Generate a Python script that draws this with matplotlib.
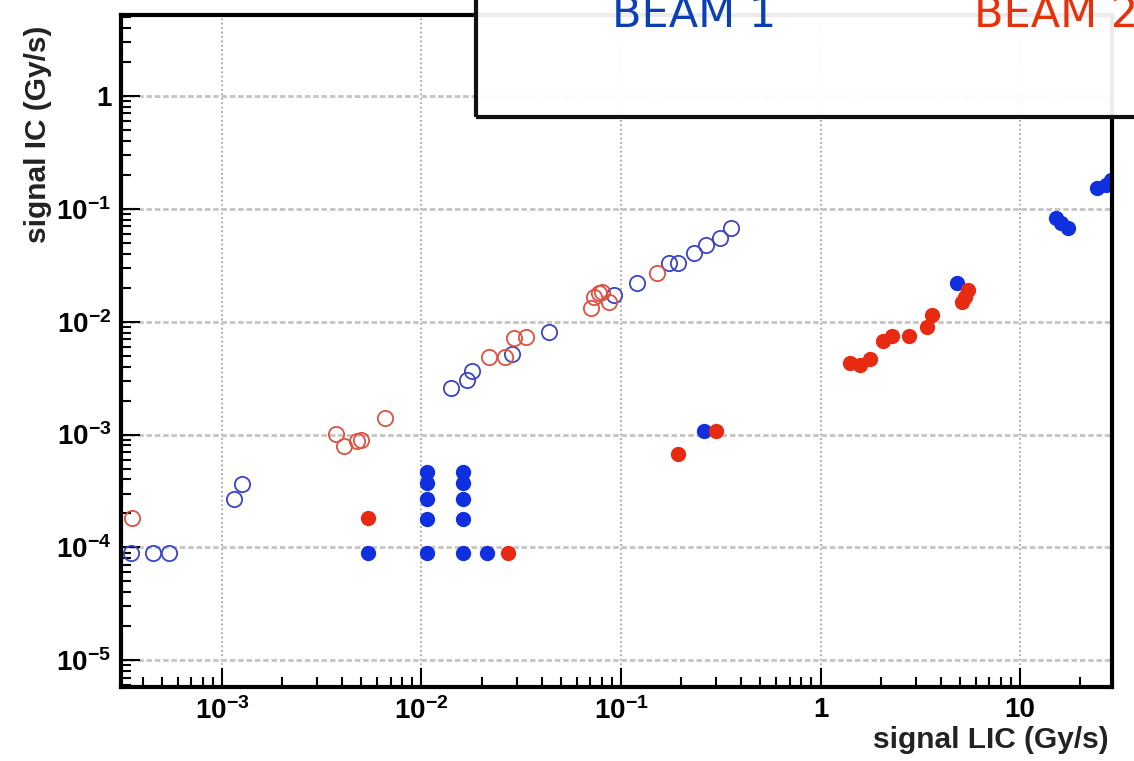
import matplotlib.pyplot as plt
from matplotlib.patches import Rectangle
import numpy as np

plt.rcParams['font.family'] = ['Liberation Sans', 'DejaVu Sans']
plt.rcParams['mathtext.fontset'] = 'custom'
plt.rcParams['mathtext.rm'] = 'Liberation Sans:bold'
plt.rcParams['mathtext.bf'] = 'Liberation Sans:bold'

# beam 1, open markers
b1_open_x = [3.52e-4, 4.49e-4, 5.40e-4, 1.156e-3, 1.267e-3, 1.413e-2, 1.70e-2, 1.80e-2,
             2.83e-2, 4.38e-2, 9.27e-2, 0.1197, 0.175, 0.192, 0.233, 0.268, 0.312, 0.358]
b1_open_y = [9.0e-5, 9.0e-5, 9.0e-5, 2.71e-4, 3.68e-4, 2.56e-3, 3.01e-3, 3.69e-3,
             5.22e-3, 8.02e-3, 1.71e-2, 2.18e-2, 3.28e-2, 3.28e-2, 4.03e-2, 4.74e-2, 5.47e-2, 6.70e-2]

# beam 2, open markers
b2_open_x = [3.56e-4, 3.75e-3, 4.11e-3, 4.78e-3, 5.00e-3, 6.60e-3, 2.19e-2, 2.61e-2,
             2.92e-2, 3.36e-2, 7.11e-2, 7.36e-2, 7.80e-2, 8.07e-2, 8.75e-2, 0.151]
b2_open_y = [1.84e-4, 1.02e-3, 7.98e-4, 8.85e-4, 9.03e-4, 1.39e-3, 4.82e-3, 4.82e-3,
             7.10e-3, 7.24e-3, 1.31e-2, 1.64e-2, 1.78e-2, 1.82e-2, 1.48e-2, 2.67e-2]

# beam 1, filled markers
b1_full_x = [5.42e-3,
             1.06e-2, 1.06e-2, 1.06e-2, 1.06e-2, 1.06e-2,
             1.61e-2, 1.61e-2, 1.61e-2, 1.61e-2, 1.61e-2,
             2.14e-2, 0.262, 4.81, 15.2, 16.1, 17.3, 24.4, 27.1, 28.7]
b1_full_y = [9.0e-5,
             4.61e-4, 3.75e-4, 2.71e-4, 1.80e-4, 9.0e-5,
             4.61e-4, 3.75e-4, 2.71e-4, 1.80e-4, 9.0e-5,
             9.0e-5, 1.085e-3, 2.18e-2, 8.22e-2, 7.43e-2, 6.70e-2, 0.152, 0.161, 0.179]

# beam 2, filled markers
b2_full_x = [5.42e-3, 2.70e-2, 0.192, 0.301, 1.40, 1.57, 1.78, 2.05, 2.27, 2.79,
             3.40, 3.64, 5.09, 5.27, 5.46]
b2_full_y = [1.84e-4, 9.0e-5, 6.79e-4, 1.085e-3, 4.26e-3, 4.17e-3, 4.63e-3, 6.67e-3,
             7.39e-3, 7.39e-3, 8.89e-3, 1.14e-2, 1.48e-2, 1.64e-2, 1.89e-2]

x_ticks = [1e-3, 1e-2, 1e-1, 1, 10]
x_labels = [r'$\mathbf{10^{-3}}$', r'$\mathbf{10^{-2}}$', r'$\mathbf{10^{-1}}$', '1', '10']
y_ticks = [1e-5, 1e-4, 1e-3, 1e-2, 1e-1, 1]
y_labels = [r'$\mathbf{10^{-5}}$', r'$\mathbf{10^{-4}}$', r'$\mathbf{10^{-3}}$',
            r'$\mathbf{10^{-2}}$', r'$\mathbf{10^{-1}}$', '1']

blue = '#1030e0'
blue_open = '#3a44c8'
red = '#e82a12'
red_open = '#e05040'

fig = plt.figure(figsize=(11.34, 7.61), dpi=100)
ax = fig.add_axes([0.1067, 0.0972, 0.8739, 0.8831])
ax.set_xscale('log')
ax.set_yscale('log')
ax.set_xlim(3.12e-4, 28.9)
ax.set_ylim(5.8e-6, 5.2)

ax.plot(b1_open_x, b1_open_y, 'o', mfc='none', mec=blue_open, ms=11, mew=1.3)
ax.plot(b2_open_x, b2_open_y, 'o', mfc='none', mec=red_open, ms=11, mew=1.3)
ax.plot(b1_full_x, b1_full_y, 'o', color=blue, ms=10)
ax.plot(b2_full_x, b2_full_y, 'o', color=red, ms=10)

ax.set_xticks(x_ticks)
ax.set_xticklabels(x_labels)
ax.set_yticks(y_ticks)
ax.set_yticklabels(y_labels)
ax.tick_params(which='both', direction='in', top=False, right=False, labelsize=20, width=1.5)
ax.tick_params(which='major', length=14, pad=7)
ax.tick_params(which='minor', length=7)
for lab in ax.get_xticklabels() + ax.get_yticklabels():
    lab.set_fontweight('bold')

ax.xaxis.grid(True, which='major', color='#999999', ls=':', lw=1.2)
ax.yaxis.grid(True, which='major', color='#c4c4c4', ls=(0, (2, 1)), lw=2)
for sp in ax.spines.values():
    sp.set_linewidth(3)

ax.text(0.997, -0.079, 'signal LIC (Gy/s)', transform=ax.transAxes, ha='right',
        va='center', fontsize=21.5, fontweight='bold', color='#222222')
ax.text(-0.084, 0.823, 'signal IC (Gy/s)', transform=ax.transAxes, rotation=90,
        ha='center', va='center', fontsize=21.5, fontweight='bold', color='#222222')

box = Rectangle((0.4198, 0.8463), 0.7, 0.3, transform=fig.transFigure, facecolor='white',
                alpha=0.93, edgecolor='none', zorder=10)
fig.add_artist(box)
edge = Rectangle((0.4198, 0.8463), 0.7, 0.3, transform=fig.transFigure, facecolor='none',
                 edgecolor='#111111', lw=3, zorder=11)
fig.add_artist(edge)
fig.text(0.5397, 0.9645, 'BEAM 1', color='#0a40b4', fontsize=31, family='DejaVu Sans',
         ha='left', va='baseline', zorder=12)
fig.text(0.859, 0.9645, 'BEAM 2', color='#e8300a', fontsize=31, family='DejaVu Sans',
         ha='left', va='baseline', zorder=12)

fig.savefig('out.png', dpi=100)
